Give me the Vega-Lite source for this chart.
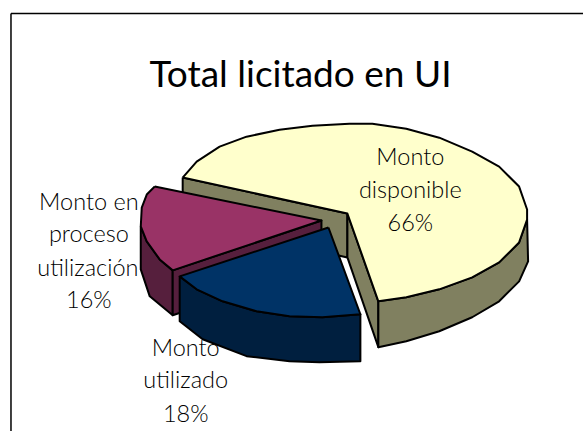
{"$schema":"https://vega.github.io/schema/vega-lite/v6.json","width":584,"height":432,"padding":0,"autosize":{"type":"fit","contains":"padding"},"background":"white","view":{"stroke":null},"datasets":{"shapes":[
{"s":"a","n":0,"x":183,"y":178},{"s":"a","n":1,"x":348,"y":214},{"s":"a","n":2,"x":348,"y":258},{"s":"a","n":3,"x":183,"y":222},{"s":"a","n":4,"x":183,"y":178},
{"s":"b","n":0,"x":348,"y":214},{"s":"b","n":1,"x":379,"y":302},{"s":"b","n":2,"x":379,"y":348},{"s":"b","n":3,"x":348,"y":258},{"s":"b","n":4,"x":348,"y":214},
{"s":"c","n":0,"x":379,"y":302},{"s":"c","n":1,"x":407,"y":298},{"s":"c","n":2,"x":440,"y":290},{"s":"c","n":3,"x":473,"y":278},{"s":"c","n":4,"x":500,"y":263},{"s":"c","n":5,"x":520,"y":243},{"s":"c","n":6,"x":528,"y":220},{"s":"c","n":7,"x":529,"y":262},{"s":"c","n":8,"x":520,"y":282},{"s":"c","n":9,"x":500,"y":302},{"s":"c","n":10,"x":473,"y":318},{"s":"c","n":11,"x":440,"y":332},{"s":"c","n":12,"x":407,"y":342},{"s":"c","n":13,"x":379,"y":348},{"s":"c","n":14,"x":379,"y":302},
{"s":"d","n":0,"x":183,"y":178},{"s":"d","n":1,"x":197,"y":162},{"s":"d","n":2,"x":220,"y":147},{"s":"d","n":3,"x":247,"y":137},{"s":"d","n":4,"x":280,"y":130},{"s":"d","n":5,"x":313,"y":126},{"s":"d","n":6,"x":350,"y":124},{"s":"d","n":7,"x":373,"y":124},{"s":"d","n":8,"x":407,"y":129},{"s":"d","n":9,"x":440,"y":138},{"s":"d","n":10,"x":473,"y":152},{"s":"d","n":11,"x":500,"y":167},{"s":"d","n":12,"x":520,"y":187},{"s":"d","n":13,"x":528,"y":210},{"s":"d","n":14,"x":528,"y":220},{"s":"d","n":15,"x":520,"y":243},{"s":"d","n":16,"x":500,"y":263},{"s":"d","n":17,"x":473,"y":278},{"s":"d","n":18,"x":440,"y":290},{"s":"d","n":19,"x":407,"y":298},{"s":"d","n":20,"x":379,"y":302},{"s":"d","n":21,"x":348,"y":214},{"s":"d","n":22,"x":183,"y":178},
{"s":"e","n":0,"x":141,"y":227},{"s":"e","n":1,"x":147,"y":242},{"s":"e","n":2,"x":160,"y":260},{"s":"e","n":3,"x":173,"y":271},{"s":"e","n":4,"x":173,"y":316},{"s":"e","n":5,"x":150,"y":297},{"s":"e","n":6,"x":141,"y":270},{"s":"e","n":7,"x":141,"y":227},
{"s":"f","n":0,"x":173,"y":271},{"s":"f","n":1,"x":322,"y":221},{"s":"f","n":2,"x":322,"y":266},{"s":"f","n":3,"x":173,"y":316},{"s":"f","n":4,"x":173,"y":271},
{"s":"g","n":0,"x":155,"y":187},{"s":"g","n":1,"x":322,"y":221},{"s":"g","n":2,"x":173,"y":271},{"s":"g","n":3,"x":160,"y":260},{"s":"g","n":4,"x":147,"y":242},{"s":"g","n":5,"x":141,"y":227},{"s":"g","n":6,"x":142,"y":208},{"s":"g","n":7,"x":147,"y":195},{"s":"g","n":8,"x":155,"y":187},
{"s":"h","n":0,"x":180,"y":277},{"s":"h","n":1,"x":197,"y":290},{"s":"h","n":2,"x":223,"y":302},{"s":"h","n":3,"x":257,"y":312},{"s":"h","n":4,"x":290,"y":317},{"s":"h","n":5,"x":323,"y":318},{"s":"h","n":6,"x":361,"y":315},{"s":"h","n":7,"x":361,"y":362},{"s":"h","n":8,"x":320,"y":363},{"s":"h","n":9,"x":290,"y":362},{"s":"h","n":10,"x":247,"y":357},{"s":"h","n":11,"x":203,"y":340},{"s":"h","n":12,"x":180,"y":322},{"s":"h","n":13,"x":180,"y":277},
{"s":"i","n":0,"x":329,"y":228},{"s":"i","n":1,"x":361,"y":315},{"s":"i","n":2,"x":323,"y":318},{"s":"i","n":3,"x":290,"y":317},{"s":"i","n":4,"x":257,"y":312},{"s":"i","n":5,"x":223,"y":302},{"s":"i","n":6,"x":197,"y":290},{"s":"i","n":7,"x":180,"y":277},{"s":"i","n":8,"x":329,"y":228}
],
"frame":[{"left":11,"right":584,"top":13.5,"bottom":432}],
"labels":[
{"t":"Monto","x":411,"y":165},{"t":"disponible","x":411,"y":198},{"t":"66%","x":411,"y":232},
{"t":"Monto en","x":89,"y":210},{"t":"proceso","x":89,"y":243},{"t":"utilización","x":88,"y":277},{"t":"16%","x":89,"y":309},
{"t":"Monto","x":186,"y":357},{"t":"utilizado","x":186,"y":389},{"t":"18%","x":186,"y":423}
],"title":[{"t":"Total licitado en UI","x":301,"y":87}]},
"layer":[
{"data":{"name":"shapes"},"mark":{"type":"line","filled":true,"stroke":"black","strokeWidth":2,"strokeJoin":"round","interpolate":"linear"},
"encoding":{"x":{"field":"x","type":"quantitative","scale":{"domain":[0,584],"nice":false,"zero":false},"axis":null},"y":{"field":"y","type":"quantitative","scale":{"domain":[432,0],"nice":false,"zero":false},"axis":null},"order":{"field":"n","type":"quantitative"},"detail":{"field":"s"},"fill":{"field":"s","type":"nominal","legend":null,"scale":{"domain":["a","b","c","d","e","f","g","h","i"],"range":["#808060","#808060","#808060","#FFFFCC","#561F3D","#561F3D","#993366","#001F3F","#003366"]}}}},
{"data":{"name":"frame"},"mark":{"type":"rule","stroke":"black","strokeWidth":1.5},"encoding":{"x":{"field":"left","type":"quantitative"},"y":{"field":"top","type":"quantitative"},"y2":{"field":"bottom"}}},
{"data":{"name":"frame"},"mark":{"type":"rule","stroke":"black","strokeWidth":1.5},"encoding":{"y":{"field":"top","type":"quantitative"},"x":{"field":"left","type":"quantitative"},"x2":{"field":"right"}}},
{"data":{"name":"labels"},"mark":{"type":"text","font":"Lato","fontSize":23.5,"fontWeight":300,"fill":"black","baseline":"alphabetic","align":"center"},"encoding":{"x":{"field":"x","type":"quantitative"},"y":{"field":"y","type":"quantitative"},"text":{"field":"t"}}},
{"data":{"name":"title"},"mark":{"type":"text","font":"Lato","fontSize":37,"fill":"black","baseline":"alphabetic","align":"center"},"encoding":{"x":{"field":"x","type":"quantitative"},"y":{"field":"y","type":"quantitative"},"text":{"field":"t"}}}
]}
